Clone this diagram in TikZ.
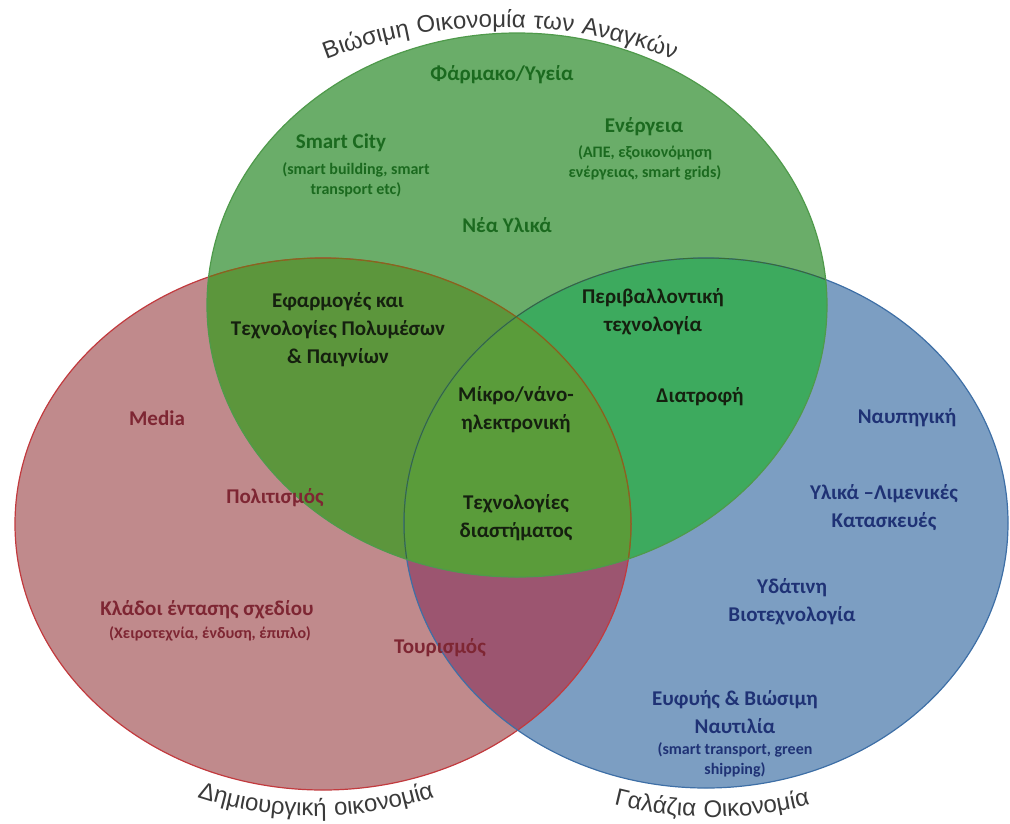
\documentclass[tikz,border=0pt]{standalone}
\usepackage{fontspec}
\setmainfont{Carlito}
\newfontfamily\titlefont[LetterSpace=5]{Liberation Sans}
\usetikzlibrary{decorations.text}

\definecolor{RedFill}{HTML}{C08A8C}
\definecolor{BlueFill}{HTML}{7C9EC2}
\definecolor{GreenFill}{HTML}{6AAD69}
\definecolor{RedBlue}{HTML}{9C5570}
\definecolor{RedGreen}{HTML}{5C963C}
\definecolor{GreenBlue}{HTML}{3DAA5E}
\definecolor{AllThree}{HTML}{5A9C3A}
\definecolor{RedEdge}{HTML}{C23A3E}
\definecolor{BlueEdge}{HTML}{3E6FA6}
\definecolor{GreenEdge}{HTML}{4F9A4B}
\definecolor{GreenText}{HTML}{1B6A1F}
\definecolor{DarkText}{HTML}{15200F}
\definecolor{RedText}{HTML}{7E2633}
\definecolor{BlueText}{HTML}{1F3275}
\definecolor{TitleGray}{HTML}{3A3A3A}

\begin{document}
\begin{tikzpicture}[x=1pt, y=1pt,
  lab/.style={font=\fontsize{21}{28}\selectfont\bfseries, align=center, inner sep=0pt},
  sublab/.style={font=\fontsize{16}{20}\selectfont\bfseries, align=center, inner sep=0pt},
  greentxt/.style={lab, text=GreenText},
  greensub/.style={sublab, text=GreenText},
  darktxt/.style={lab, text=DarkText},
  redtxt/.style={lab, text=RedText},
  redsub/.style={sublab, text=RedText},
  bluetxt/.style={lab, text=BlueText},
  bluesub/.style={sublab, text=BlueText}]

  \useasboundingbox (0,0) rectangle (1010,-823);

  %%%%%%%%%% Centres of the three sets %%%%%%%%%%
  \coordinate (G) at (517,-305);
  \coordinate (R) at (323,-524);
  \coordinate (B) at (706,-523);

  %%%%%%%%%% Fills %%%%%%%%%%
  \fill [RedFill] (R) ellipse [x radius=308, y radius=266];
  \fill [BlueFill] (B) ellipse [x radius=302, y radius=265];
  \begin{scope}
    \clip (R) ellipse [x radius=308, y radius=266];
    \fill [RedBlue] (B) ellipse [x radius=302, y radius=265];
  \end{scope}
  \fill [GreenFill] (G) ellipse [x radius=310, y radius=272];
  \begin{scope}
    \clip (G) ellipse [x radius=310, y radius=272];
    \fill [RedGreen] (R) ellipse [x radius=308, y radius=266];
    \fill [GreenBlue] (B) ellipse [x radius=302, y radius=265];
    \clip (R) ellipse [x radius=308, y radius=266];
    \fill [AllThree] (B) ellipse [x radius=302, y radius=265];
  \end{scope}

  %%%%%%%%%% Edges %%%%%%%%%%
  \draw [RedEdge, line width=1.2] (R) ellipse [x radius=308, y radius=266];
  \draw [BlueEdge, line width=1.2] (B) ellipse [x radius=302, y radius=265];
  \begin{scope}
    \clip (G) ellipse [x radius=310, y radius=272];
    \draw [olive!80!black, line width=1] (R) ellipse [x radius=308, y radius=266];
    \draw [GreenEdge!70!black, line width=1] (B) ellipse [x radius=302, y radius=265];
  \end{scope}
  \draw [GreenEdge, line width=1.2] (G) ellipse [x radius=310, y radius=272];

  %%%%%%%%%% Titles %%%%%%%%%%
  \path [decorate, decoration={text along path, text align=center,
      text={|\titlefont\fontsize{24}{24}\selectfont\color{TitleGray}|Βιώσιμη Οικονομία των Αναγκών}}]
    ([shift={(125:480)}]500,-507) arc [start angle=125, end angle=55, radius=480];
  \path [decorate, decoration={text along path, text align=center,
      text={|\titlefont\fontsize{24}{24}\selectfont\color{TitleGray}|Δημιουργική οικονομία}}]
    ([shift={(235:380)}]316,-436) arc [start angle=235, end angle=305, radius=380];
  \path [decorate, decoration={text along path, text align=center,
      text={|\titlefont\fontsize{24}{24}\selectfont\color{TitleGray}|Γαλάζια Οικονομία}}]
    ([shift={(240:400)}]712,-417) arc [start angle=240, end angle=300, radius=400];

  %%%%%%%%%% Green set %%%%%%%%%%
  \node [greentxt] (pharma) at (502,-75) {Φάρμακο/Υγεία};
  \node [greentxt] (smart) at (341,-143) {Smart City};
  \node [greensub] (smartsub) at (356,-180) {(smart building, smart\\transport etc)};
  \node [greentxt] (energy) at (644,-127) {Ενέργεια};
  \node [greensub] (energysub) at (645,-163) {(ΑΠΕ, εξοικονόμηση\\ενέργειας, smart grids)};
  \node [greentxt] (newmat) at (507,-225) {Νέα Υλικά};

  %%%%%%%%%% Overlaps %%%%%%%%%%
  \node [darktxt] (multimedia) at (338,-330) {Εφαρμογές και\\Τεχνολογίες Πολυμέσων\\\& Παιγνίων};
  \node [darktxt] (environ) at (653,-312) {Περιβαλλοντική\\τεχνολογία};
  \node [darktxt] (food) at (700,-397) {Διατροφή};
  \node [darktxt] (micro) at (516,-410) {Μίκρο/νάνο-\\ηλεκτρονική};
  \node [darktxt] (spacetech) at (516,-518) {Τεχνολογίες\\διαστήματος};

  %%%%%%%%%% Red set %%%%%%%%%%
  \node [redtxt] (media) at (157,-418) {Media};
  \node [redtxt] (culture) at (275,-498) {Πολιτισμός};
  \node [redtxt] (design) at (207,-610) {Κλάδοι έντασης σχεδίου};
  \node [redsub] (designsub) at (210,-634) {(Χειροτεχνία, ένδυση, έπιπλο)};
  \node [redtxt] (tourism) at (440,-648) {Τουρισμός};

  %%%%%%%%%% Blue set %%%%%%%%%%
  \node [bluetxt] (shipbuild) at (907,-418) {Ναυπηγική};
  \node [bluetxt] (ports) at (884,-508) {Υλικά –Λιμενικές\\Κατασκευές};
  \node [bluetxt] (biotech) at (792,-602) {Υδάτινη\\Βιοτεχνολογία};
  \node [bluetxt] (shipping) at (735,-712) {Ευφυής \& Βιώσιμη\\Ναυτιλία};
  \node [bluesub] (shipsub) at (735,-760) {(smart transport, green\\shipping)};

\end{tikzpicture}
\end{document}
